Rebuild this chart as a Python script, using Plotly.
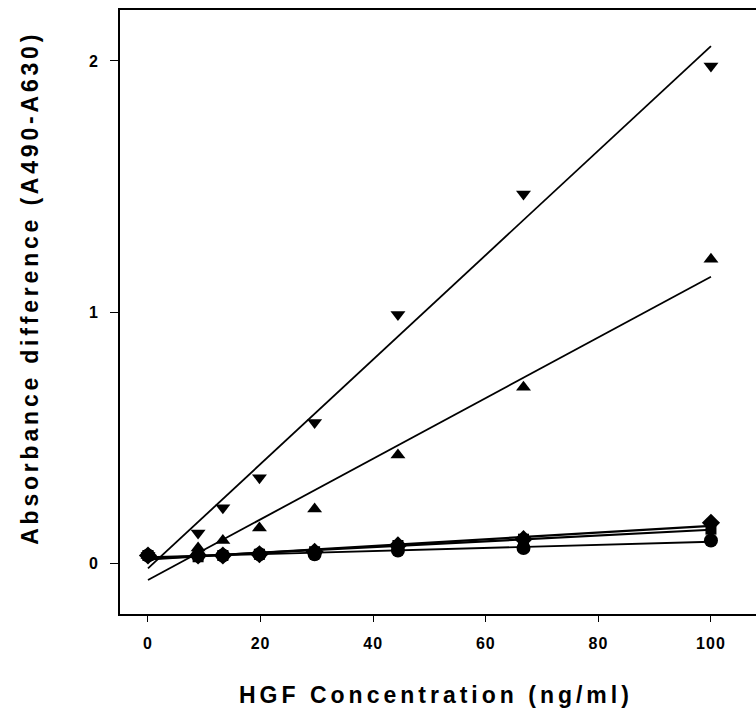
import numpy as np
import plotly.graph_objects as go

conc = [0, 8.9, 13.3, 19.8, 29.6, 44.4, 66.7, 100]
tri_down = [0.03, 0.12, 0.22, 0.34, 0.56, 0.99, 1.47, 1.98]
tri_up = [0.03, 0.06, 0.09, 0.14, 0.215, 0.43, 0.70, 1.21]
diamonds = [0.03, 0.03, 0.03, 0.035, 0.045, 0.07, 0.095, 0.16]
squares = [0.03, 0.025, 0.03, 0.035, 0.045, 0.07, 0.095, 0.135]
circles = [0.03, 0.03, 0.03, 0.035, 0.035, 0.05, 0.06, 0.09]

x_ticks = [0, 20, 40, 60, 80, 100]
y_ticks = [0, 1, 2]

series = [
    (tri_down, "triangle-down", 13, 1.8),
    (tri_up, "triangle-up", 13, 1.8),
    (diamonds, "diamond", 14, 2.2),
    (squares, "square", 11, 2.2),
    (circles, "circle", 14, 1.8),
]

fig = go.Figure()
xa = np.array(conc)
for ys, sym, sz, lw in series:
    slope, icpt = np.polyfit(xa, np.array(ys), 1)
    xf = np.array([xa.min(), xa.max()])
    fig.add_trace(go.Scatter(x=xf, y=slope * xf + icpt, mode="lines",
                             line=dict(color="black", width=lw),
                             showlegend=False, hoverinfo="skip"))
for ys, sym, sz, lw in series:
    fig.add_trace(go.Scatter(x=conc, y=ys, mode="markers",
                             marker=dict(symbol=sym, size=sz, color="black"),
                             showlegend=False))

tick_font = dict(family="Liberation Sans", size=16, color="black", weight="bold")
title_font = dict(family="Liberation Sans", size=23, color="black", weight="bold")

def spaced(v):
    return '<span style="letter-spacing:1px">%s</span>' % v

fig.update_layout(
    width=756, height=719,
    margin=dict(l=120, r=0, t=10, b=105, autoexpand=False),
    paper_bgcolor="white", plot_bgcolor="white",
    xaxis=dict(range=[-4.97, 108.0], tickvals=x_ticks,
               ticktext=[spaced(v) for v in x_ticks], ticks="outside", ticklen=6,
               tickwidth=1.2, tickcolor="black", showline=True, linecolor="black",
               linewidth=2, mirror=True, showgrid=False, zeroline=False,
               tickfont=tick_font, ticklabelstandoff=8, automargin=False),
    yaxis=dict(range=[-0.203, 2.203], tickvals=y_ticks,
               ticktext=[spaced(v) for v in y_ticks], ticks="outside", ticklen=8,
               tickwidth=1.2, tickcolor="black", showline=True, linecolor="black",
               linewidth=2, showgrid=False, zeroline=False,
               tickfont=tick_font, ticklabelstandoff=8, automargin=False),
    annotations=[
        dict(text='<span style="letter-spacing:4px">HGF Concentration (ng/ml)</span>',
             xref="paper", yref="paper", x=0.497, y=-0.134, xanchor="center",
             yanchor="middle", showarrow=False, font=title_font),
        dict(text='<span style="letter-spacing:3.8px">Absorbance difference (A490-A630)</span>',
             xref="paper", yref="paper", x=-0.1415, y=0.54, xanchor="center",
             yanchor="middle", showarrow=False, textangle=-90, font=title_font),
    ],
)

fig.write_html("out.html", config={"displayModeBar": False},
               post_script="document.body.style.margin='0';document.body.style.overflow='hidden';")
